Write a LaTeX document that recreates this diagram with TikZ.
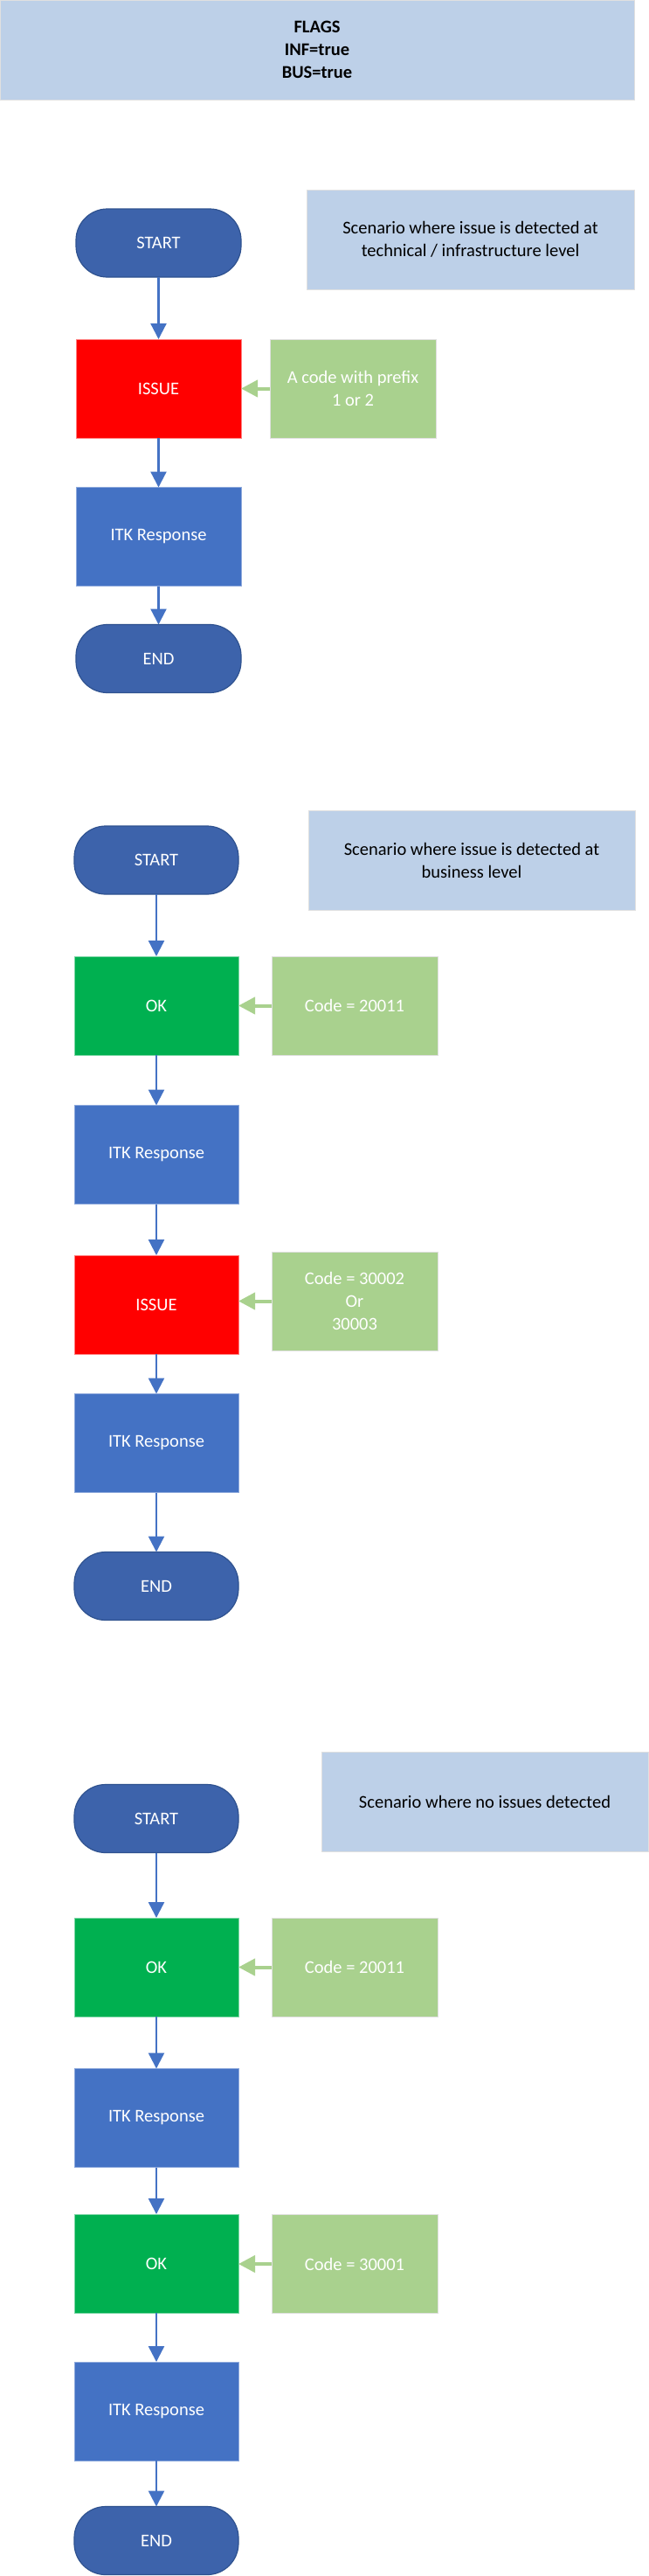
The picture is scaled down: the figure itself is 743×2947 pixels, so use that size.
\documentclass[tikz,border=0pt]{standalone}
\usepackage{fontspec}
\setmainfont{Carlito}
\usetikzlibrary{arrows.meta}
\definecolor{termblue}{HTML}{3D63AB}
\definecolor{termedge}{HTML}{2F528F}
\definecolor{itkblue}{HTML}{4472C4}
\definecolor{okgreen}{HTML}{00B050}
\definecolor{issuered}{HTML}{FF0000}
\definecolor{codegreen}{HTML}{A9D18E}
\definecolor{noteblue}{HTML}{BDD0E8}
\tikzset{
  x=1pt, y=-1pt,
  every node/.style={font=\fontsize{20.5}{26}\selectfont, align=center, inner sep=0pt, outer sep=0pt},
  term/.style={rectangle, rounded corners=36pt, fill=termblue, draw=termedge, line width=1.2pt,
    text=white, minimum width=189pt, minimum height=78pt},
  boxbase/.style={rectangle, draw=black!15, line width=1pt, minimum width=189pt, minimum height=113pt},
  itk/.style={boxbase, fill=itkblue, draw=itkblue!60!white, text=white},
  issue/.style={boxbase, fill=issuered, draw=issuered!50!white, text=white},
  okbox/.style={boxbase, fill=okgreen, draw=okgreen!50!white, text=white},
  code/.style={boxbase, fill=codegreen, draw=black!12, text=white, minimum width=190pt},
  note/.style={rectangle, fill=noteblue, draw=black!12, line width=1pt, text=black,
    minimum width=375pt, minimum height=114pt},
  flow/.style={draw=itkblue, line width=2.3pt, -{Triangle[width=18pt,length=18pt]}},
  codeflow/.style={draw=codegreen, line width=4pt, -{Triangle[width=19pt,length=19pt]}}
}
\begin{document}
\begin{tikzpicture}
\useasboundingbox (0,0) rectangle (743,2947);
\fill[white] (0,0) rectangle (743,2947);

% header
\node[note, minimum width=726pt, font=\fontsize{20.5}{26}\selectfont\bfseries] (flags) at (363,57)
  {FLAGS\\INF=true\\BUS=true};

% ---------------- Scenario 1
\node[note] (note1) at (538.5,274) {Scenario where issue is detected at\\technical / infrastructure level};
\node[term, minimum width=189pt] (start1) at (181.5,278) {START};
\node[issue] (issue1) at (181.5,444.5) {ISSUE};
\node[code] (codeA) at (404,444.5) {A code with prefix\\1 or 2};
\node[itk] (itk1) at (181.5,614) {ITK Response};
\node[term] (end1) at (181.5,753.5) {END};
\draw[flow] (start1.south) -- (issue1.north);
\draw[flow] (issue1.south) -- (itk1.north);
\draw[flow] (itk1.south) -- (end1.north);
\draw[codeflow] (codeA.west) -- (issue1.east);

% ---------------- Scenario 2
\node[note, minimum width=374pt] (note2) at (540,984) {Scenario where issue is detected at\\business level};
\node[term, minimum width=188pt] (start2) at (179,984) {START};
\node[okbox, minimum width=188pt] (ok2) at (179,1150.5) {OK};
\node[code] (codeB) at (406,1150.5) {Code = 20011};
\node[itk, minimum width=188pt] (itk2a) at (179,1321) {ITK Response};
\node[issue, minimum width=188pt] (issue2) at (179,1492.5) {ISSUE};
\node[code] (codeC) at (406,1488.5) {Code = 30002\\Or\\30003};
\node[itk, minimum width=188pt] (itk2b) at (179,1651) {ITK Response};
\node[term, minimum width=188pt] (end2) at (179,1814.5) {END};
\draw[flow] (start2.south) -- (ok2.north);
\draw[flow] (ok2.south) -- (itk2a.north);
\draw[flow] (itk2a.south) -- (issue2.north);
\draw[flow] (issue2.south) -- (itk2b.north);
\draw[flow] (itk2b.south) -- (end2.north);
\draw[codeflow] (codeB.west) -- (ok2.east);
\draw[codeflow] (codeC.west) -- (codeC.west -| issue2.east);

% ---------------- Scenario 3
\node[note, minimum width=374pt] (note3) at (555,2061.5) {Scenario where no issues detected};
\node[term, minimum width=188pt] (start3) at (179,2080.5) {START};
\node[okbox, minimum width=188pt] (ok3a) at (179,2250.5) {OK};
\node[code] (codeD) at (406,2250.5) {Code = 20011};
\node[itk, minimum width=188pt] (itk3a) at (179,2423) {ITK Response};
\node[okbox, minimum width=188pt] (ok3b) at (179,2589.5) {OK};
\node[code] (codeE) at (406,2590) {Code = 30001};
\node[itk, minimum width=188pt] (itk3b) at (179,2758.5) {ITK Response};
\node[term, minimum width=188pt] (end3) at (179,2906.5) {END};
\draw[flow] (start3.south) -- (ok3a.north);
\draw[flow] (ok3a.south) -- (itk3a.north);
\draw[flow] (itk3a.south) -- (ok3b.north);
\draw[flow] (ok3b.south) -- (itk3b.north);
\draw[flow] (itk3b.south) -- (end3.north);
\draw[codeflow] (codeD.west) -- (ok3a.east);
\draw[codeflow] (codeE.west) -- (codeE.west -| ok3b.east);
\end{tikzpicture}
\end{document}
